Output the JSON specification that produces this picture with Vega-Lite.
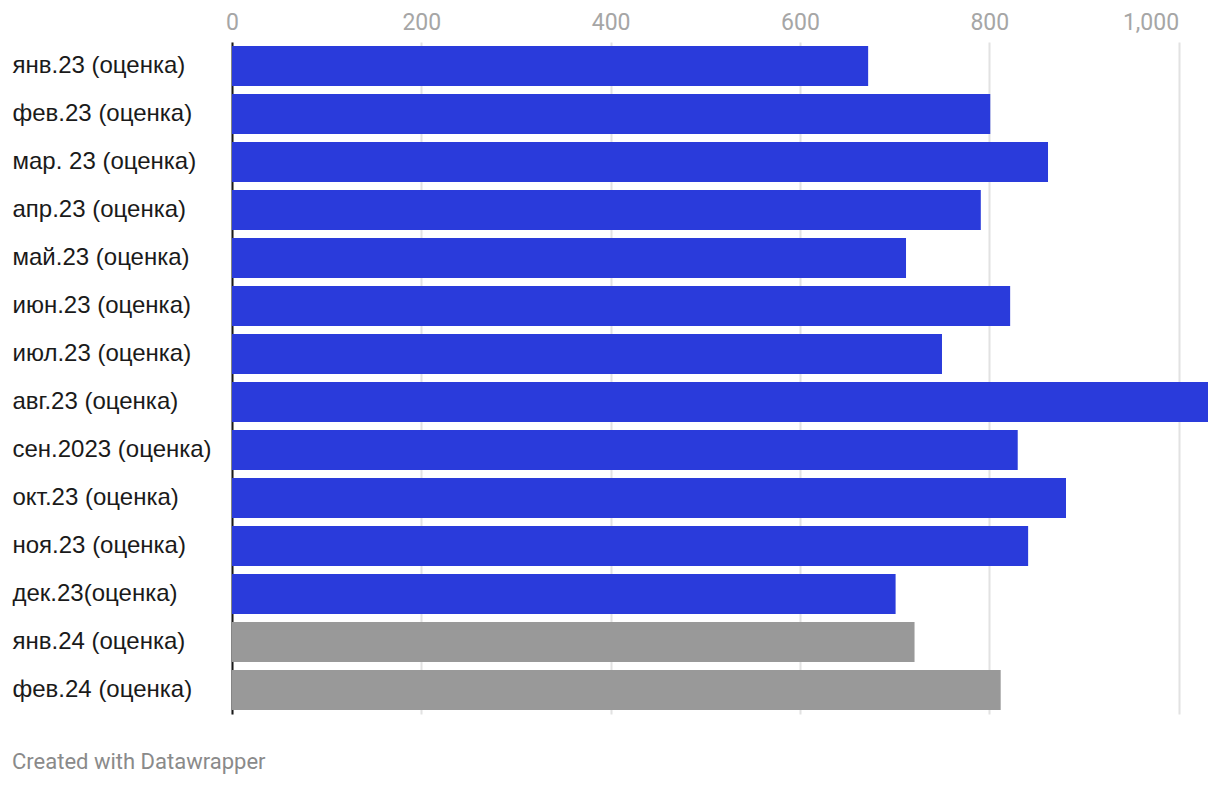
{
  "$schema": "https://vega.github.io/schema/vega-lite/v6.json",
  "autosize": {"type": "none"},
  "padding": {"left": 232, "top": 42, "right": 12, "bottom": 72},
  "width": 976,
  "height": 672,
  "background": "white",
  "title": {
    "text": "Created with Datawrapper",
    "orient": "bottom",
    "anchor": "start",
    "offset": 38,
    "baseline": "top",
    "font": "Roboto",
    "fontSize": 22,
    "fontWeight": "normal",
    "color": "#8a8a8a"
  },
  "data": {
    "values": [
      {"month": "янв.23 (оценка)", "value": 672, "kind": "2023"},
      {"month": "фев.23 (оценка)", "value": 801, "kind": "2023"},
      {"month": "мар. 23 (оценка)", "value": 862, "kind": "2023"},
      {"month": "апр.23 (оценка)", "value": 791, "kind": "2023"},
      {"month": "май.23 (оценка)", "value": 712, "kind": "2023"},
      {"month": "июн.23 (оценка)", "value": 822, "kind": "2023"},
      {"month": "июл.23 (оценка)", "value": 750, "kind": "2023"},
      {"month": "авг.23 (оценка)", "value": 1031, "kind": "2023"},
      {"month": "сен.2023 (оценка)", "value": 830, "kind": "2023"},
      {"month": "окт.23 (оценка)", "value": 881, "kind": "2023"},
      {"month": "ноя.23 (оценка)", "value": 841, "kind": "2023"},
      {"month": "дек.23(оценка)", "value": 701, "kind": "2023"},
      {"month": "янв.24 (оценка)", "value": 721, "kind": "2024"},
      {"month": "фев.24 (оценка)", "value": 812, "kind": "2024"}
    ]
  },
  "mark": {"type": "bar"},
  "encoding": {
    "y": {
      "field": "month",
      "type": "nominal",
      "sort": null,
      "scale": {"paddingInner": 0.1667, "paddingOuter": 0.0833},
      "axis": {
        "title": null,
        "ticks": false,
        "tickSize": 0,
        "labelAlign": "left",
        "labelPadding": 220,
        "labelFont": "Liberation Sans",
        "labelFontSize": 24,
        "labelColor": "#1a1a1a",
        "labelLimit": 0,
        "domain": true,
        "domainColor": "#1a1a1a",
        "domainWidth": 2,
        "grid": false
      }
    },
    "x": {
      "field": "value",
      "type": "quantitative",
      "scale": {"domain": [0, 1031], "nice": false},
      "axis": {
        "orient": "top",
        "title": null,
        "values": [0, 200, 400, 600, 800, 1000],
        "format": ",d",
        "ticks": false,
        "tickSize": 0,
        "domain": false,
        "labelPadding": 8,
        "labelFont": "Roboto",
        "labelFontSize": 23,
        "labelColor": "#a6a6a6",
        "labelAlign": {"condition": {"test": "datum.value == 1000", "value": "right"}, "value": "center"},
        "labelFlush": false,
        "grid": true,
        "gridColor": "#e2e2e2",
        "gridWidth": 2
      }
    },
    "color": {
      "field": "kind",
      "type": "nominal",
      "scale": {"domain": ["2023", "2024"], "range": ["#2a3bdb", "#999999"]},
      "legend": null
    }
  },
  "config": {"view": {"stroke": null}}
}
